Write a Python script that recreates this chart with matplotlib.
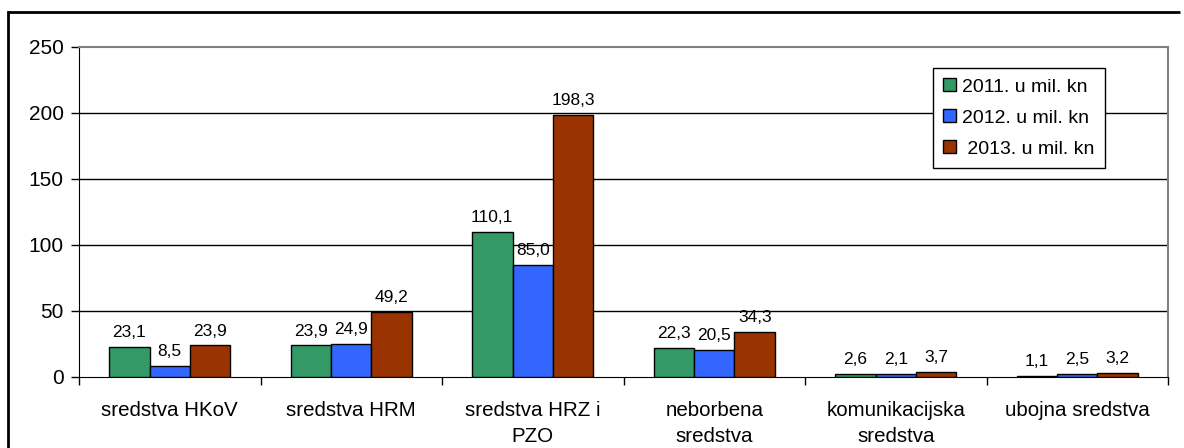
import numpy as np
import matplotlib
matplotlib.use("Agg")
import matplotlib.pyplot as plt
from matplotlib.lines import Line2D

plt.rcParams['font.family'] = ['Liberation Sans', 'DejaVu Sans']

kategorije = ["sredstva HKoV", "sredstva HRM", "sredstva HRZ i\nPZO",
              "neborbena\nsredstva", "komunikacijska\nsredstva", "ubojna sredstva"]
v2011 = [23.1, 23.9, 110.1, 22.3, 2.6, 1.1]
v2012 = [8.5, 24.9, 85.0, 20.5, 2.1, 2.5]
v2013 = [23.9, 49.2, 198.3, 34.3, 3.7, 3.2]
nazivi = ["2011. u mil. kn", "2012. u mil. kn", " 2013. u mil. kn"]
boje = ["#339966", "#3366FF", "#993300"]
y_ticks = [0, 50, 100, 150, 200, 250]

fig = plt.figure(figsize=(11.84, 4.48), dpi=100)
ax = fig.add_axes([79/1184, 1-377/448, (1168-79)/1184, (377-47)/448])

# vanjski okvir (vidi se samo gornji i lijevi rub)
y_top = 1 - 12/448
x_left = 8/1184
fig.add_artist(Line2D([x_left, 1180/1184], [y_top, y_top], transform=fig.transFigure,
                      color="black", linewidth=2, solid_capstyle="butt"))
fig.add_artist(Line2D([x_left, x_left], [0, y_top], transform=fig.transFigure,
                      color="black", linewidth=2))

x = np.arange(len(kategorije))
w = 0.223
for k, (vals, boja, naziv) in enumerate(zip([v2011, v2012, v2013], boje, nazivi)):
    pos = x + (k - 1) * w
    ax.bar(pos, vals, width=w, color=boja, edgecolor="black", linewidth=1,
           label=naziv, zorder=3)
    for p, v in zip(pos, vals):
        ax.annotate(f"{v:.1f}".replace(".", ","), (p, v), xytext=(0, 5),
                    textcoords="offset points", ha="center", va="bottom",
                    fontsize=12.5)

for t in y_ticks[1:-1]:
    ax.axhline(t, color="black", linewidth=1, zorder=1)

ax.set_ylim(0, 250)
ax.set_xlim(-0.5, len(kategorije) - 0.5)
ax.set_yticks(y_ticks)
ax.tick_params(axis="y", labelsize=15, direction="out", length=6, width=1, pad=5)
ax.set_xticks(x)
ax.set_xticklabels(kategorije, fontsize=14.8)
for lbl in ax.get_xticklabels():
    lbl.set_linespacing(1.5)
ax.tick_params(axis="x", length=0, pad=17)
ax.set_xticks(np.arange(len(kategorije) + 1) - 0.5, minor=True)
ax.tick_params(axis="x", which="minor", length=6, width=1, direction="out")

ax.spines["left"].set_color("black")
ax.spines["bottom"].set_color("black")
ax.spines["top"].set_color("#808080")
ax.spines["right"].set_color("#808080")
ax.spines["top"].set_linewidth(1.5)
ax.spines["right"].set_linewidth(1.5)

leg = ax.legend(loc="upper left", bbox_to_anchor=(923/1184, 1-58/448),
                bbox_transform=fig.transFigure, fontsize=14, frameon=True,
                fancybox=False, edgecolor="black", framealpha=1,
                handlelength=0.65, handleheight=0.65, handletextpad=0.3,
                labelspacing=0.7, borderpad=0.55)
leg.get_frame().set_linewidth(1)

fig.savefig("out.png", dpi=100)
